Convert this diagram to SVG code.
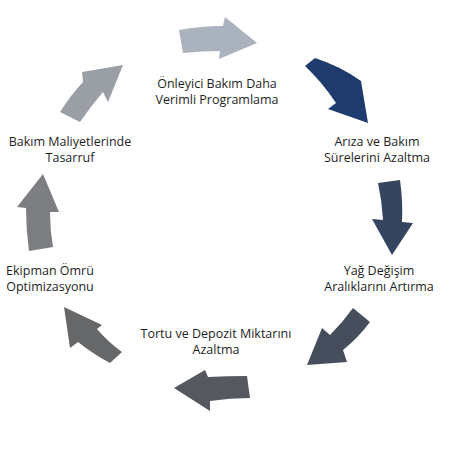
<svg xmlns="http://www.w3.org/2000/svg" width="450" height="450" viewBox="0 0 450 450">
<style>
.lbl{font-family:"Open Sans","Noto Sans","Liberation Sans",sans-serif;font-size:12.5px;fill:#1e1e1e;text-anchor:middle}
.ar{stroke:none}
</style>
<rect width="450" height="450" fill="#fff"/>
<g id="connectors">
<path class="ar" fill="#aab2bd" d="M179,30 Q201,26 223,26 L225,17 L257,43 L219,59 L220,51 Q201,51 183,53 Z"/>
<path class="ar" fill="#1f3b6e" d="M315,58 Q340,66 361,81 L368,123 L328,109 L336,103 Q322,82 305,66 Z"/>
<path class="ar" fill="#35455f" d="M378,183 L400,180 Q403,201 402,222 L413,223 L392,255 L372,219 L383,220 Q382,201 378,183 Z"/>
<path class="ar" fill="#464e5e" d="M353,308 L370,322 Q358,338 343,350 L347,362 L307,365 L322,328 L330,335 Q343,322 353,308 Z"/>
<path class="ar" fill="#55585e" d="M247,376 L250,398 Q230,398 210,401 L210,411 L174,388 L205,370 L208,377 Q228,376 247,376 Z"/>
<path class="ar" fill="#666769" d="M122,352 L110,363 Q93,354 78,342 L70,348 L64,307 L102,325 L97,329 Q108,342 122,352 Z"/>
<path class="ar" fill="#7d7e82" d="M29,251 L53,247 Q50,230 50,212 L59,212 L43,174 L17,207 L26,208 Q26,230 29,251 Z"/>
<path class="ar" fill="#9a9ea5" d="M60,112 L80,122 Q91,106 103,92 L108,102 L123,65 L82,72 L83,82 Q70,96 60,112 Z"/>
</g>
<g id="node-onleyici"><text class="lbl" x="217" y="88">Önleyici Bakım Daha</text><text class="lbl" x="217" y="104">Verimli Programlama</text></g>
<g id="node-ariza"><text class="lbl" x="377" y="146">Arıza ve Bakım</text><text class="lbl" x="377" y="162">Sürelerini Azaltma</text></g>
<g id="node-yag"><text class="lbl" x="379" y="275">Yağ Değişim</text><text class="lbl" x="379" y="291">Aralıklarını Artırma</text></g>
<g id="node-tortu"><text class="lbl" x="216" y="338">Tortu ve Depozit Miktarını</text><text class="lbl" x="216" y="354">Azaltma</text></g>
<g id="node-ekipman"><text class="lbl" x="50" y="275">Ekipman Ömrü</text><text class="lbl" x="50" y="291">Optimizasyonu</text></g>
<g id="node-bakim"><text class="lbl" x="70" y="146">Bakım Maliyetlerinde</text><text class="lbl" x="70" y="162">Tasarruf</text></g>
</svg>
